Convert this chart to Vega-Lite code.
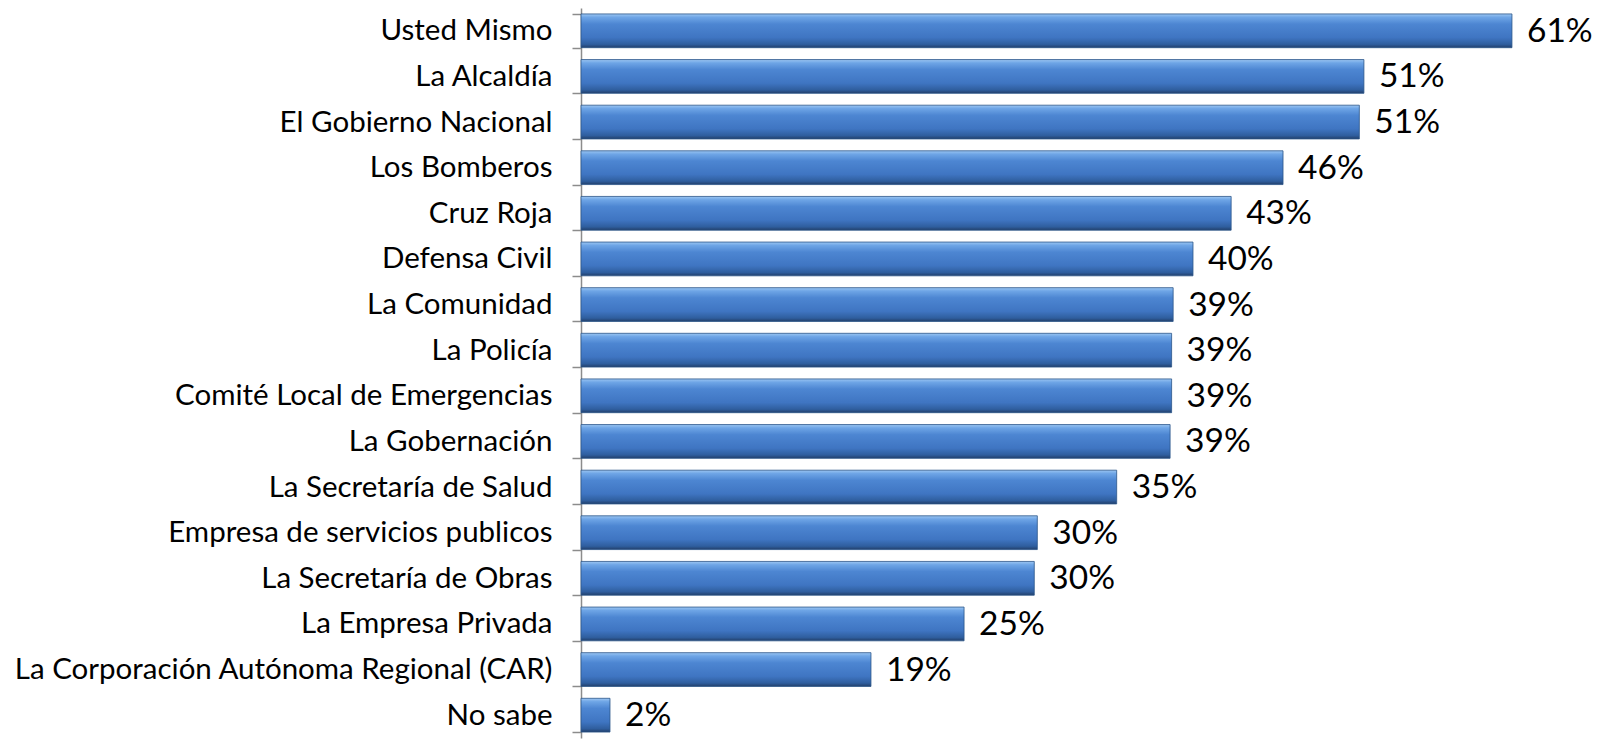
{
  "$schema": "https://vega.github.io/schema/vega-lite/v6.json",
  "autosize": {"type": "none"},
  "padding": {"left": 581, "top": 8, "right": 30, "bottom": 1},
  "width": 992,
  "height": 730,
  "background": "white",
  "config": {"view": {"stroke": null}, "font": "Lato"},
  "data": {
    "values": [
      {"cat": "Usted Mismo", "v": 0.610},
      {"cat": "La Alcaldía", "v": 0.513},
      {"cat": "El Gobierno Nacional", "v": 0.510},
      {"cat": "Los Bomberos", "v": 0.460},
      {"cat": "Cruz Roja", "v": 0.426},
      {"cat": "Defensa Civil", "v": 0.401},
      {"cat": "La Comunidad", "v": 0.388},
      {"cat": "La Policía", "v": 0.387},
      {"cat": "Comité Local de Emergencias", "v": 0.387},
      {"cat": "La Gobernación", "v": 0.386},
      {"cat": "La Secretaría de Salud", "v": 0.351},
      {"cat": "Empresa de servicios publicos", "v": 0.299},
      {"cat": "La Secretaría de Obras", "v": 0.297},
      {"cat": "La Empresa Privada", "v": 0.251},
      {"cat": "La Corporación Autónoma Regional (CAR)", "v": 0.190},
      {"cat": "No sabe", "v": 0.019}
    ]
  },
  "encoding": {
    "y": {
      "field": "cat", "type": "nominal", "sort": null,
      "scale": {"paddingInner": 0.26, "paddingOuter": 0.13},
      "axis": {
        "title": null, "domainColor": "#8c8c8c", "tickColor": "#8c8c8c",
        "tickSize": 9, "tickBand": "extent", "labelPadding": 20,
        "labelFontSize": 29.5, "labelColor": "#000000", "labelFont": "Lato",
        "labelLimit": 0, "domainWidth": 1.5, "tickWidth": 1.5
      }
    },
    "x": {
      "field": "v", "type": "quantitative",
      "scale": {"domain": [0, 0.65], "nice": false, "zero": true},
      "axis": null
    }
  },
  "layer": [
    {
      "mark": {
        "type": "bar",
        "stroke": "#2b5689", "strokeWidth": 0.8,
        "color": {
          "gradient": "linear", "x1": 0, "y1": 0, "x2": 0, "y2": 1,
          "stops": [
            {"offset": 0, "color": "#9cc6f2"},
            {"offset": 0.1, "color": "#6ea5e6"},
            {"offset": 0.3, "color": "#4d86d2"},
            {"offset": 0.7, "color": "#3f75c2"},
            {"offset": 0.9, "color": "#2f5e9e"},
            {"offset": 1, "color": "#223f6a"}
          ]
        }
      }
    },
    {
      "mark": {"type": "text", "align": "left", "baseline": "middle", "dx": 15, "dy": 1, "fontSize": 33.5, "font": "Lato", "color": "#000000"},
      "encoding": {"text": {"field": "v", "type": "quantitative", "format": ".0%"}}
    }
  ]
}
